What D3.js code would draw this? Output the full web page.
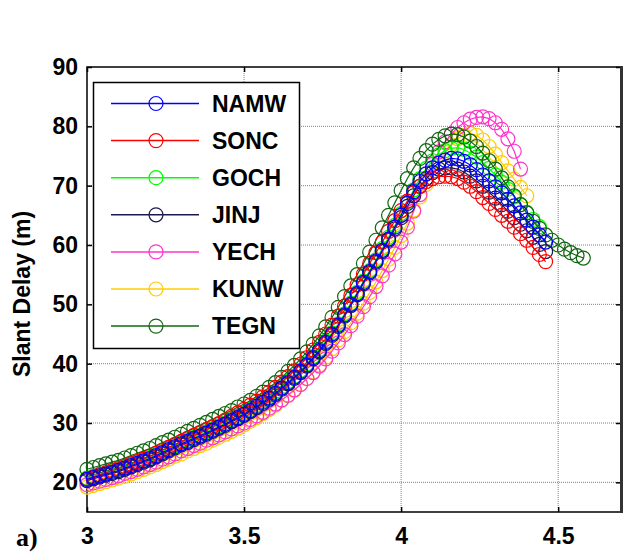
<!DOCTYPE html>
<html>
<head>
<meta charset="utf-8">
<script src="https://cdn.jsdelivr.net/npm/d3@7"></script>
<style>
body { margin: 0; background: #fff; }
</style>
</head>
<body>
<svg id="chart" width="624" height="552"></svg>
<script>
// x values shared by all stations
var xGrid = [
  3.00,3.02,3.04,3.06,3.08,3.10,3.12,3.14,3.16,3.18,
  3.20,3.22,3.24,3.26,3.28,3.30,3.32,3.34,3.36,3.38,
  3.40,3.42,3.44,3.46,3.48,3.50,3.52,3.54,3.56,3.58,
  3.60,3.62,3.64,3.66,3.68,3.70,3.72,3.74,3.76,3.78,
  3.80,3.82,3.84,3.86,3.88,3.90,3.92,3.94,3.96,3.98,
  4.00,4.02,4.04,4.06,4.08,4.10,4.12,4.14,4.16,4.18,
  4.20,4.22,4.24,4.26,4.28,4.30,4.32,4.34,4.36,4.38,
  4.40,4.42,4.44,4.46,4.48,4.50,4.52,4.54,4.56,4.58
];

var namw = [
  20.5,20.8,21.1,21.4,21.7,22.0,22.4,22.8,23.2,23.6,
  24.0,24.5,25.0,25.5,26.0,26.5,26.9,27.4,27.8,28.3,
  28.8,29.3,29.8,30.4,30.9,31.5,32.1,32.8,33.5,34.2,
  35.0,35.9,36.8,37.7,38.7,39.8,41.0,42.2,43.6,45.0,
  46.5,48.2,50.0,51.8,53.7,55.5,57.3,59.1,61.0,63.0,
  65.0,67.0,69.0,70.7,72.0,73.0,73.8,74.3,74.6,74.5,
  74.1,73.5,72.7,71.8,70.8,69.8,68.8,67.7,66.6,65.4,
  64.2,63.0,61.7,60.5
];
var sonc = [
  20.6,20.9,21.3,21.6,22.0,22.3,22.7,23.1,23.5,23.9,
  24.4,24.9,25.4,25.9,26.4,26.9,27.4,27.9,28.4,28.9,
  29.4,29.9,30.5,31.1,31.7,32.3,33.0,33.7,34.4,35.2,
  36.0,36.9,37.8,38.8,39.9,41.0,42.3,43.6,45.0,46.5,
  48.0,49.7,51.5,53.3,55.1,56.9,58.7,60.5,62.3,64.1,
  65.8,67.4,68.8,69.9,70.7,71.2,71.5,71.6,71.5,71.2,
  70.6,69.9,69.0,68.0,67.0,66.0,65.0,64.0,63.0,61.9,
  60.8,59.6,58.4,57.2
];
var goch = [
  20.7,21.0,21.3,21.6,21.9,22.2,22.6,23.0,23.4,23.8,
  24.2,24.7,25.2,25.7,26.2,26.7,27.1,27.6,28.0,28.5,
  29.0,29.5,30.0,30.6,31.1,31.7,32.3,33.0,33.7,34.4,
  35.2,36.1,37.0,37.9,38.9,40.0,41.2,42.4,43.8,45.2,
  46.7,48.4,50.2,52.0,53.9,55.7,57.5,59.4,61.3,63.3,
  65.3,67.3,69.3,71.2,72.9,74.2,75.2,75.9,76.3,76.4,
  76.1,75.5,74.8,73.9,72.9,71.8,70.6,69.4,68.1,66.8,
  65.5,64.3,63.1
];
var jinj = [
  20.3,20.6,20.9,21.2,21.5,21.8,22.2,22.6,23.0,23.4,
  23.8,24.3,24.8,25.3,25.8,26.3,26.7,27.2,27.6,28.1,
  28.6,29.1,29.6,30.2,30.7,31.3,31.9,32.6,33.3,34.0,
  34.8,35.7,36.6,37.5,38.5,39.6,40.8,42.0,43.4,44.8,
  46.3,48.0,49.8,51.6,53.5,55.3,57.1,58.9,60.8,62.7,
  64.6,66.5,68.3,69.9,71.2,72.2,72.8,73.0,73.0,72.8,
  72.3,71.6,70.8,69.9,68.9,67.9,66.8,65.7,64.6,63.5,
  62.4,61.3,60.1,58.9
];
var yech = [
  19.6,19.9,20.2,20.5,20.8,21.1,21.5,21.8,22.2,22.6,
  23.0,23.4,23.9,24.3,24.8,25.3,25.7,26.2,26.6,27.1,
  27.5,28.0,28.5,29.0,29.5,30.0,30.6,31.2,31.8,32.5,
  33.2,33.9,34.7,35.6,36.5,37.5,38.5,39.6,40.8,42.1,
  43.5,44.9,46.4,48.0,49.6,51.3,53.0,54.8,56.6,58.5,
  60.5,63.0,65.7,68.5,71.2,73.6,75.7,77.4,78.7,79.8,
  80.6,81.2,81.5,81.6,81.3,80.6,79.5,77.9,75.8,72.8
];
var kunw = [
  19.2,19.5,19.8,20.1,20.4,20.7,21.0,21.4,21.8,22.2,
  22.6,23.0,23.5,23.9,24.4,24.8,25.3,25.7,26.2,26.6,
  27.1,27.6,28.1,28.6,29.1,29.7,30.3,30.9,31.6,32.3,
  33.0,33.8,34.6,35.5,36.5,37.5,38.6,39.8,41.1,42.5,
  44.0,45.4,46.9,48.5,50.2,52.0,53.8,55.7,57.6,59.6,
  61.6,63.7,65.9,68.1,70.2,72.2,74.0,75.6,76.9,77.9,
  78.5,78.8,78.5,77.7,76.6,75.3,73.9,72.5,71.1,69.7,
  68.3
];
var tegn = [
  22.2,22.5,22.8,23.1,23.4,23.7,24.1,24.5,24.9,25.3,
  25.7,26.2,26.7,27.1,27.6,28.1,28.6,29.1,29.6,30.1,
  30.6,31.1,31.6,32.1,32.7,33.2,33.8,34.5,35.2,36.0,
  36.8,37.7,38.7,39.7,40.8,42.0,43.3,44.7,46.2,47.8,
  49.5,51.3,53.1,55.0,56.9,58.8,60.8,62.9,65.0,67.1,
  69.2,71.2,73.0,74.6,75.9,77.0,77.8,78.4,78.7,78.6,
  78.2,77.5,76.6,75.5,74.2,72.8,71.3,69.8,68.3,66.8,
  65.4,64.0,62.8,61.7,60.8,60.0,59.3,58.7,58.2,57.8
];

var stations = ['NAMW', 'SONC', 'GOCH', 'JINJ', 'YECH', 'KUNW', 'TEGN'];
var stationValues = [namw, sonc, goch, jinj, yech, kunw, tegn];
var colors = ['#0000ff', '#ff0000', '#00ff00', '#1a1a50', '#ff33cc', '#ffcc00', '#116611'];
var drawOrder = [5, 4, 2, 6, 3, 1, 0];

var xTicks = [3, 3.5, 4, 4.5];
var yTicks = [20, 30, 40, 50, 60, 70, 80, 90];

var sans = '"Liberation Sans", Arial, sans-serif';
var serif = '"Liberation Serif", "Times New Roman", serif';

var marginLeft = 87;
var marginTop = 67;
var plotRight = 621;
var plotBottom = 512;

var svg = d3.select('#chart');

var x = d3.scaleLinear().domain([3, 4.7]).range([marginLeft, plotRight]);
var y = d3.scaleLinear().domain([15, 90]).range([plotBottom, marginTop]);

// dotted grid
svg.append('g').selectAll('line')
    .data(xTicks.slice(1))
    .enter()
    .append('line')
    .attr('x1', function (d) { return x(d); })
    .attr('x2', function (d) { return x(d); })
    .attr('y1', marginTop)
    .attr('y2', plotBottom)
    .attr('stroke', '#808080')
    .attr('stroke-width', 1)
    .attr('stroke-dasharray', '1,1');

svg.append('g').selectAll('line')
    .data(yTicks.slice(0, -1))
    .enter()
    .append('line')
    .attr('x1', marginLeft)
    .attr('x2', plotRight)
    .attr('y1', function (d) { return y(d); })
    .attr('y2', function (d) { return y(d); })
    .attr('stroke', '#808080')
    .attr('stroke-width', 1)
    .attr('stroke-dasharray', '1,1');

// axes with inward ticks
var fmt = function (d) { return String(d); };
var xAxis = svg.append('g')
    .attr('transform', 'translate(0,' + plotBottom + ')')
    .call(d3.axisBottom(x).tickValues(xTicks).tickSize(-5).tickPadding(16).tickFormat(fmt));
var yAxis = svg.append('g')
    .attr('transform', 'translate(' + marginLeft + ',0)')
    .call(d3.axisLeft(y).tickValues(yTicks).tickSize(-5).tickPadding(9).tickFormat(fmt));
var topAxis = svg.append('g')
    .attr('transform', 'translate(0,' + marginTop + ')')
    .call(d3.axisTop(x).tickValues(xTicks).tickSize(-5).tickFormat(''));
var rightAxis = svg.append('g')
    .attr('transform', 'translate(' + plotRight + ',0)')
    .call(d3.axisRight(y).tickValues(yTicks).tickSize(-5).tickFormat(''));

[xAxis, yAxis, topAxis, rightAxis].forEach(function (g) {
    g.select('.domain').remove();
    g.selectAll('.tick line').attr('stroke', '#000').attr('stroke-width', 1.5);
    g.selectAll('text')
        .attr('font-family', sans)
        .attr('font-weight', 'bold')
        .attr('font-size', 23)
        .attr('fill', '#000');
});

// frame
svg.append('path')
    .attr('d', 'M' + plotRight + ',' + marginTop + 'H' + marginLeft + 'V' + plotBottom + 'H' + plotRight)
    .attr('fill', 'none')
    .attr('stroke', '#000')
    .attr('stroke-width', 1.5);
svg.append('line')
    .attr('x1', plotRight + 0.5).attr('x2', plotRight + 0.5)
    .attr('y1', marginTop - 1).attr('y2', plotBottom + 1)
    .attr('stroke', '#333')
    .attr('stroke-width', 3);

// series
var line = d3.line()
    .x(function (d) { return x(d[0]); })
    .y(function (d) { return y(d[1]); });

drawOrder.forEach(function (k) {
    var pts = stationValues[k].map(function (v, i) { return [xGrid[i], v]; });
    var g = svg.append('g').attr('class', 'series');
    g.append('path')
        .datum(pts)
        .attr('d', line)
        .attr('fill', 'none')
        .attr('stroke', colors[k])
        .attr('stroke-width', 1.2);
    g.selectAll('circle')
        .data(pts)
        .enter()
        .append('circle')
        .attr('cx', function (d) { return x(d[0]); })
        .attr('cy', function (d) { return y(d[1]); })
        .attr('r', 7)
        .attr('fill', 'none')
        .attr('stroke', colors[k])
        .attr('stroke-width', 1.2);
});

// legend
var legend = svg.append('g');
legend.append('rect')
    .attr('x', 93.5)
    .attr('y', 82.5)
    .attr('width', 206)
    .attr('height', 266)
    .attr('fill', '#fff')
    .attr('stroke', '#000')
    .attr('stroke-width', 1.5);

var items = legend.selectAll('g.item')
    .data(stations)
    .enter()
    .append('g')
    .attr('class', 'item')
    .attr('transform', function (d, i) { return 'translate(0,' + (103.5 + i * 37.1) + ')'; });
items.append('line')
    .attr('x1', 111).attr('x2', 199)
    .attr('stroke', function (d, i) { return colors[i]; })
    .attr('stroke-width', 1.5);
items.append('circle')
    .attr('cx', 156)
    .attr('r', 7)
    .attr('fill', 'none')
    .attr('stroke', function (d, i) { return colors[i]; })
    .attr('stroke-width', 1.2);
items.append('text')
    .attr('x', 212)
    .attr('dy', '0.36em')
    .attr('font-family', sans)
    .attr('font-weight', 'bold')
    .attr('font-size', 23)
    .text(function (d) { return d; });

// axis titles
svg.append('text')
    .attr('transform', 'translate(30,294) rotate(-90)')
    .attr('text-anchor', 'middle')
    .attr('font-family', sans)
    .attr('font-weight', 'bold')
    .attr('font-size', 23)
    .text('Slant Delay (m)');

svg.append('text')
    .attr('x', 16)
    .attr('y', 546)
    .attr('font-family', serif)
    .attr('font-weight', 'bold')
    .attr('font-size', 26)
    .text('a)');
</script>
</body>
</html>
